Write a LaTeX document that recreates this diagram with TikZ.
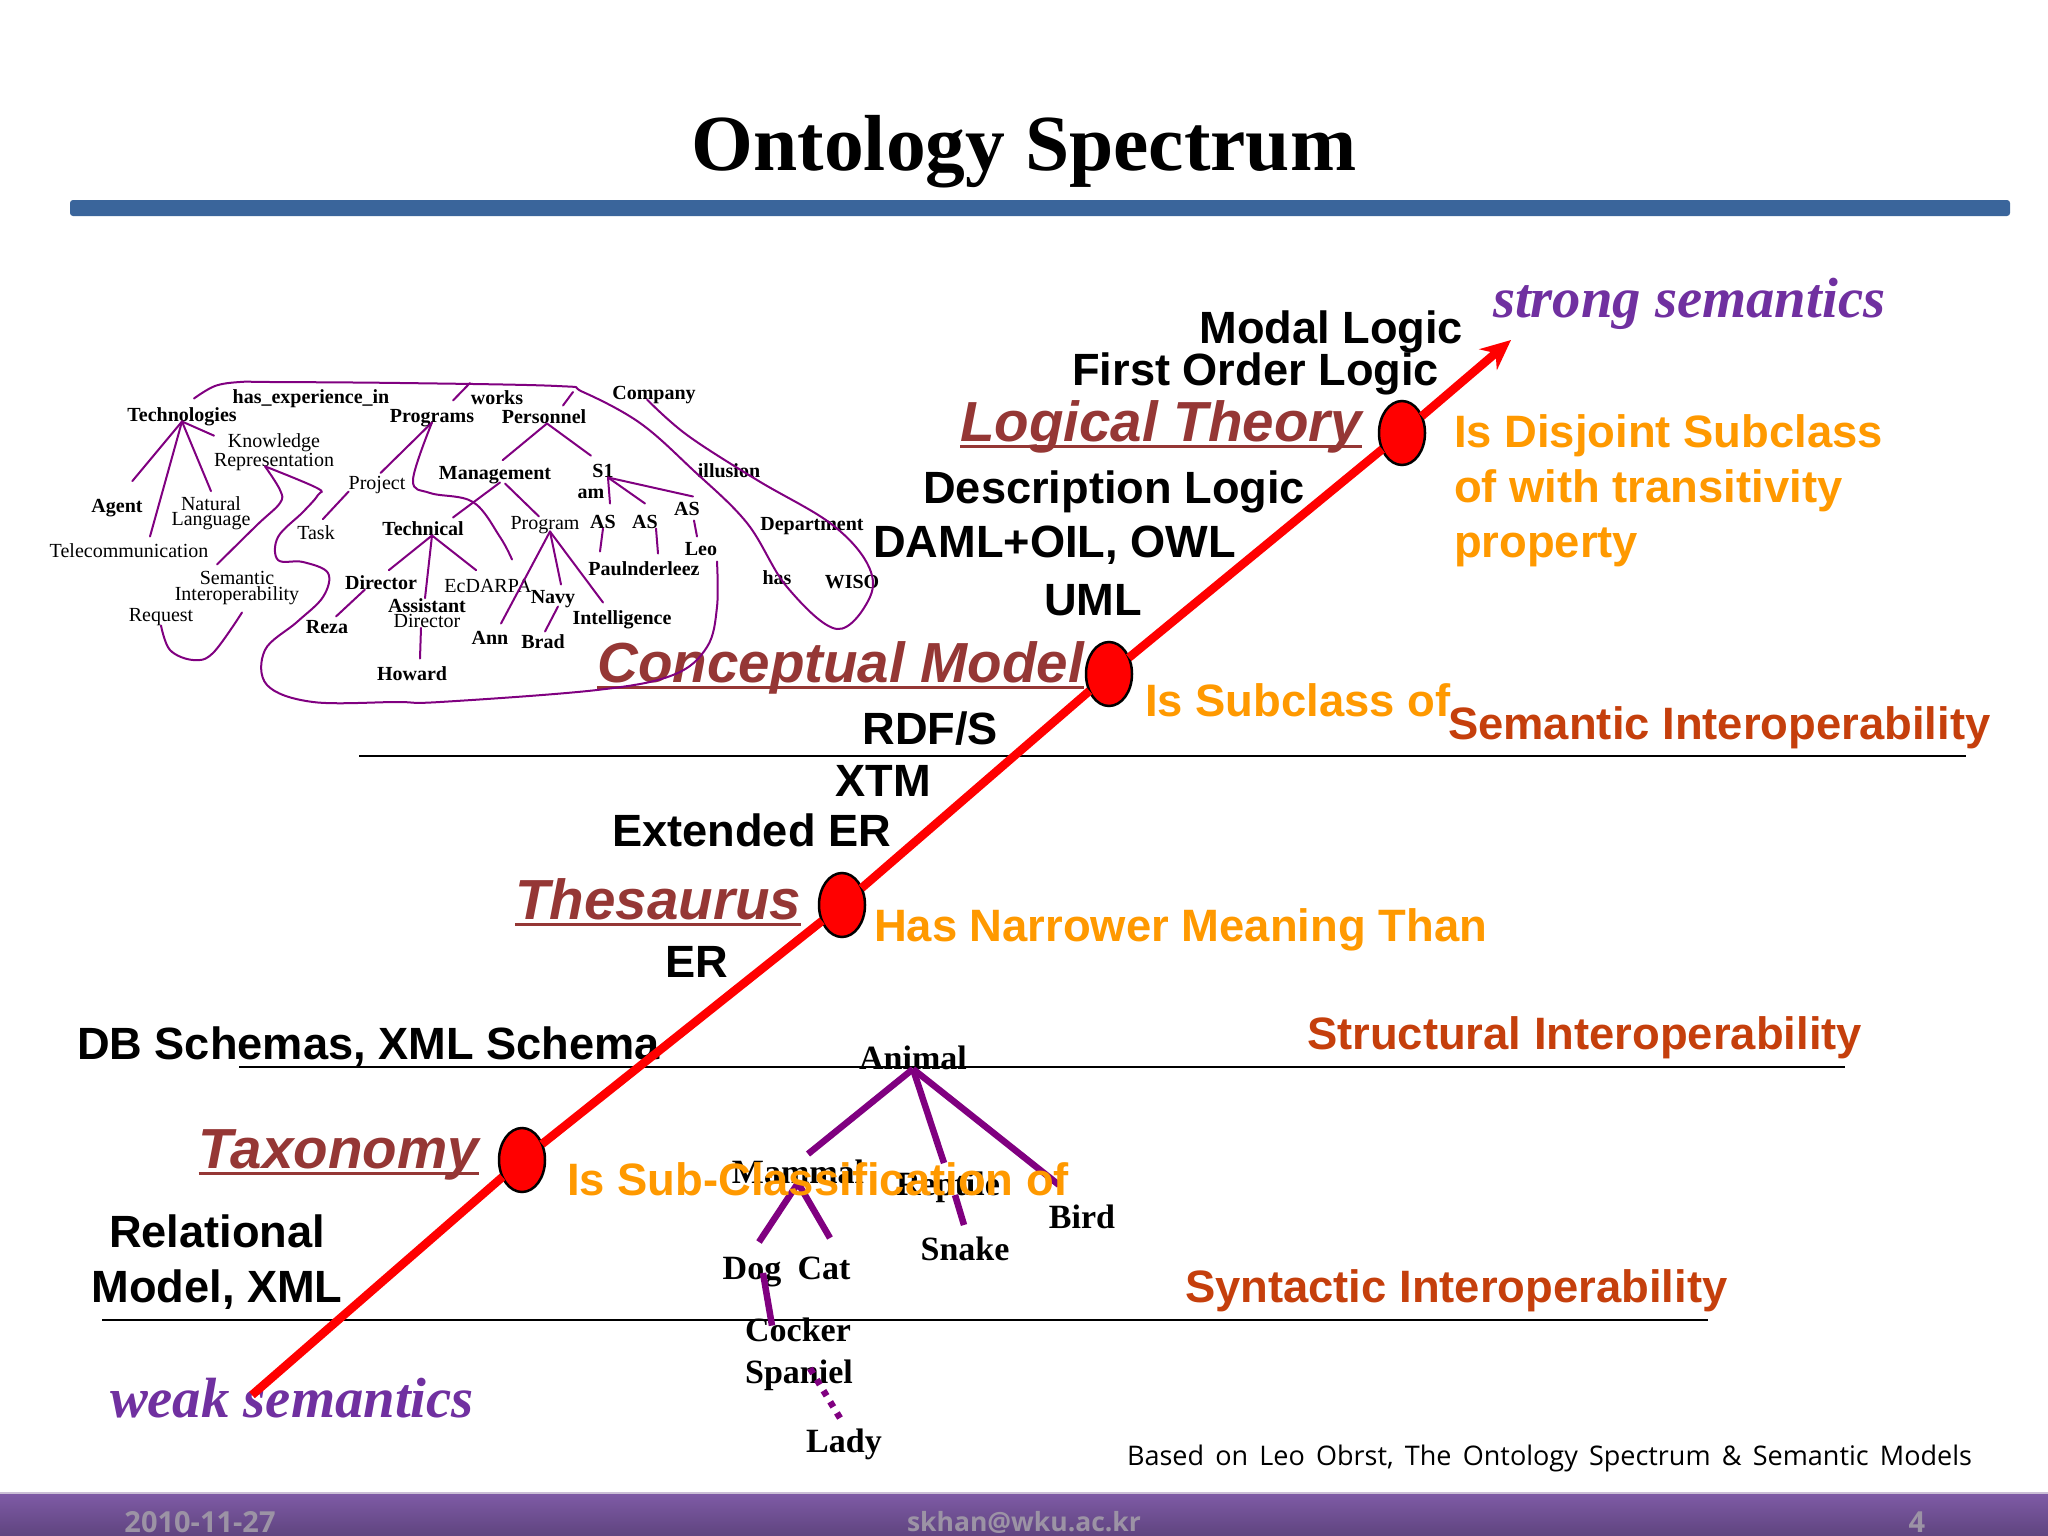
\documentclass[tikz,border=0pt]{standalone}
\usepackage{fontspec}
\setmainfont{Liberation Serif}
\setsansfont{Liberation Sans}
\newfontfamily\footfont{Open Sans}
\newfontfamily\basedfont[WordSpace=1.6]{Open Sans}
\usepackage{xcolor}
\usetikzlibrary{arrows.meta,shapes.geometric}
\definecolor{levelbrown}{HTML}{953735}
\definecolor{relorange}{HTML}{FF9900}
\definecolor{interopred}{HTML}{C53F0C}
\definecolor{semviolet}{HTML}{7030A0}
\definecolor{ontopurple}{HTML}{800080}
\definecolor{barfill}{HTML}{5F90CC}
\definecolor{barline}{HTML}{3A659B}
\definecolor{foottop}{HTML}{7F5BA6}
\definecolor{footlow}{HTML}{5F447F}
\definecolor{foottext}{HTML}{9C93A5}
\definecolor{footedge}{HTML}{CBBFD6}
\begin{document}
\begin{tikzpicture}[x=1pt,y=-1pt,
	every node/.style={inner sep=0pt,outer sep=0pt},
	langtext/.style={font=\sffamily\bfseries\fontsize{45.2}{55}\selectfont,text=black,text height=32pt,text depth=0pt},
	leveltext/.style={font=\sffamily\bfseries\itshape\fontsize{56.5}{60}\selectfont,text=levelbrown,text height=41pt,text depth=5pt},
	levelline/.style={draw=levelbrown,line width=3pt},
	reltext/.style={font=\sffamily\bfseries\fontsize{45.4}{55}\selectfont,text=relorange,text height=32pt,text depth=0pt},
	interop/.style={font=\sffamily\bfseries\fontsize{45.4}{55}\selectfont,text=interopred,text height=32pt,text depth=0pt},
	semtext/.style={font=\bfseries\itshape\fontsize{56.7}{57}\selectfont,text=semviolet,text height=34pt,text depth=0pt},
	foottxt/.style={font=\footfont\bfseries\fontsize{29}{29}\selectfont,text=foottext},
	conc/.style={font=\fontsize{20}{15.5}\selectfont,text height=13pt,text depth=0pt},
	conb/.style={conc,font=\bfseries\fontsize{20}{15.5}\selectfont},
	conm/.style={font=\fontsize{20}{15.5}\selectfont,align=center},
	anim/.style={font=\bfseries\fontsize{34}{42}\selectfont,text height=22pt,text depth=0pt},
	redpt/.style={draw=black,line width=2.5pt,fill=red,ellipse,minimum width=46pt,minimum height=64pt},
	ontoedge/.style={draw=ontopurple,line width=2pt,line cap=round},
	animedge/.style={draw=ontopurple,line width=6.5pt},
	grade/.style={draw=black,line width=1.8pt}]
\useasboundingbox (0,0) rectangle (2048,1536);
\node[font=\bfseries\fontsize{79.5}{80}\selectfont] (title) at (1024,152) {Ontology Spectrum};
\shade[rounded corners=3pt,top color=barline,middle color=barfill,bottom color=barline] (70,200) rectangle (2010,216);
\draw[grade] (359,756) -- (1966,756);
\draw[grade] (239,1067) -- (1845,1067);
\draw[grade] (102,1320) -- (1708,1320);
\shade[top color=foottop,bottom color=footlow] (0,1493) rectangle (2048,1536);
\draw[footedge,line width=2pt] (0,1493) -- (2048,1493);
\node[foottxt] (datetxt) at (200,1522) {2010-11-27};
\node[foottxt,font=\footfont\bfseries\fontsize{26.5}{27}\selectfont] (mailtxt) at (1024,1522) {skhan@wku.ac.kr};
\node[foottxt] (pagetxt) at (1917,1522) {4};
\node[font=\basedfont\fontsize{27}{28}\selectfont,anchor=east] (basedon) at (1972,1458) {Based on Leo Obrst, The Ontology Spectrum \& Semantic Models};
\node[langtext,anchor=east] (modal) at (1463,327) {Modal Logic};
\node[langtext,anchor=east] (firstorder) at (1439,369) {First Order Logic};
\node[langtext,anchor=east] (descr) at (1305,487) {Description Logic};
\node[langtext,anchor=east] (daml) at (1236,541) {DAML+OIL, OWL};
\node[langtext,anchor=east] (uml) at (1142,599) {UML};
\node[langtext,anchor=east] (rdfs) at (998,728) {RDF/S};
\node[langtext,anchor=east] (xtm) at (931,780) {XTM};
\node[langtext,anchor=east] (exter) at (891,830) {Extended ER};
\node[langtext,anchor=east] (er) at (728,961) {ER};
\node[langtext,anchor=west] (dbschema) at (77,1043) {DB Schemas, XML Schema};
\node[font=\sffamily\bfseries\fontsize{45.2}{55}\selectfont,align=center] (relmodel) at (217,1262) {Relational\\Model, XML};
\node[leveltext,anchor=east] (logical) at (1362,423) {Logical Theory};
\node[leveltext,anchor=east] (concept) at (1084,664) {Conceptual Model};
\node[leveltext,anchor=east] (thes) at (801,901) {Thesaurus};
\node[leveltext,anchor=east] (taxon) at (479,1150) {Taxonomy};
\draw[levelline] (logical.south west) -- (logical.south east);
\draw[levelline] (concept.south west) -- (concept.south east);
\draw[levelline] (thes.south west) -- (thes.south east);
\draw[levelline] (taxon.south west) -- (taxon.south east);
\node[semtext,anchor=west] (strong) at (1493,300) {strong semantics};
\node[semtext,anchor=west] (weak) at (110,1400) {weak semantics};
\node[font=\sffamily\bfseries\fontsize{45.4}{55}\selectfont,text=relorange,align=left,anchor=west] (disj) at (1454,491) {Is Disjoint Subclass\\of with transitivity\\property};
\node[reltext,anchor=west] (subcl) at (1145,700) {Is Subclass of};
\node[reltext,anchor=west] (narrow) at (874,925) {Has Narrower Meaning Than};
\node[interop,anchor=west] (semint) at (1448,723) {Semantic Interoperability};
\node[interop,anchor=west] (strint) at (1307,1033) {Structural Interoperability};
\node[interop,anchor=west] (synint) at (1185,1286) {Syntactic Interoperability};
\node[redpt] (ptlog) at (1402,433) {};
\node[redpt] (ptcon) at (1109,674) {};
\node[redpt] (ptthe) at (842,905) {};
\node[redpt] (pttax) at (522,1160) {};
\coordinate (lowend) at (252,1395);
\coordinate (highend) at (1511,340);
\draw[red,line width=8.5pt] (lowend) -- (pttax) -- (ptthe) -- (ptcon) -- (ptlog);
\draw[red,line width=8.5pt,-{Stealth[length=30pt,width=27pt]}] (ptlog) -- (highend);
\node[anim] (animal) at (913,1058) {Animal};
\node[anim] (mammal) at (798,1172) {Mammal};
\node[anim] (reptile) at (948,1184) {Reptile};
\node[anim] (bird) at (1082,1217) {Bird};
\node[anim] (snake) at (965,1249) {Snake};
\node[anim] (dog) at (752,1268) {Dog};
\node[anim] (cat) at (824,1268) {Cat};
\node[font=\bfseries\fontsize{34}{42}\selectfont,align=left] (cocker) at (799,1354) {Cocker\\Spaniel};
\node[anim] (lady) at (844,1441) {Lady};
\draw[animedge] (animal.south) -- ([xshift=10pt,yshift=7pt]mammal.north);
\draw[animedge] (animal.south) -- ([xshift=-4pt,yshift=10pt]reptile.north);
\draw[animedge] (animal.south) -- ([xshift=-23pt,yshift=21pt]bird.north);
\draw[animedge] (mammal.south) -- ([xshift=7pt,yshift=15pt]dog.north);
\draw[animedge] (mammal.south) -- ([xshift=6pt,yshift=19pt]cat.north);
\draw[animedge] ([xshift=7pt]reptile.south) -- ([xshift=-1pt,yshift=13pt]snake.north);
\draw[animedge] ([xshift=11pt,yshift=6pt]dog.south) -- ([xshift=-27pt,yshift=-8pt]cocker.north);
\draw[draw=ontopurple,line width=6.5pt,dash pattern=on 6pt off 7pt] ([xshift=11pt,yshift=22pt]cocker.south) -- ([xshift=-4pt,yshift=12pt]lady.north);
\node[reltext,anchor=west] (subclass) at (567,1179) {Is Sub-Classification of};
\node[conb] (tech) at (182,415) {Technologies};
\node[conb] (hasexp) at (311,397) {has\_experience\_in};
\node[conb] (programs) at (432,416) {Programs};
\node[conb] (works) at (497,398) {works};
\node[conb] (personnel) at (544,417) {Personnel};
\node[conb] (company) at (654,393) {Company};
\node[conm] (know) at (274,452) {Knowledge\\Representation};
\node[conc] (project) at (377,483) {Project};
\node[conb] (mgmt) at (495,473) {Management};
\node[conb] (sone) at (603,471) {S1};
\node[conb] (am) at (591,492) {am};
\node[conb] (illusion) at (729,471) {illusion};
\node[conb] (asthree) at (687,509) {AS};
\node[conb] (asone) at (603,522) {AS};
\node[conb] (astwo) at (645,522) {AS};
\node[conc] (program) at (545,523) {Program};
\node[conb] (dept) at (812,524) {Department};
\node[conb] (agent) at (117,506) {Agent};
\node[conm] (natural) at (211,513) {Natural\\Language};
\node[conc] (task) at (316,533) {Task};
\node[conb] (technical) at (423,529) {Technical};
\node[conc] (telecom) at (129,551) {Telecommunication};
\node[conb] (leo) at (701,549) {Leo};
\node[conb] (paul) at (644,569) {Paulnderleez};
\node[conb] (has) at (777,578) {has};
\node[conb] (wiso) at (852,582) {WISO};
\node[conm] (semantic) at (237,588) {Semantic\\Interoperability};
\node[conb] (director) at (381,583) {Director};
\node[conc] (ecdarpa) at (488,586) {EcDARPA};
\node[conb] (navy) at (553,597) {Navy};
\node[conm] (assistant) at (427,613) {\textbf{Assistant}\\Director};
\node[conb] (intel) at (622,618) {Intelligence};
\node[conc] (request) at (161,615) {Request};
\node[conb] (reza) at (327,627) {Reza};
\node[conb] (ann) at (490,638) {Ann};
\node[conb] (brad) at (543,642) {Brad};
\node[conb] (howard) at (412,674) {Howard};
\coordinate (worksjoin) at (470,383);
\coordinate (persjoin) at (573,392);
\draw[ontoedge,shorten >=24pt] (tech.south) -- (agent.north);
\draw[ontoedge] (tech.south) -- ([xshift=21pt,yshift=8pt]telecom.north);
\draw[ontoedge] (tech.south) -- ([yshift=5pt]natural.north);
\draw[ontoedge] (tech.south) -- ([yshift=-2pt]know.north west);
\draw[ontoedge,shorten >=5pt] (programs.south) -- (project.north);
\draw[ontoedge,shorten >=10pt] ([yshift=-2pt]project.south west) -- (task.north);
\draw[ontoedge,shorten >=10pt] ([xshift=9pt]technical.south) -- (director.north);
\draw[ontoedge] ([xshift=9pt]technical.south) -- ([xshift=-2pt]assistant.north);
\draw[ontoedge,shorten >=15pt] ([xshift=9pt]technical.south) -- (ecdarpa.north);
\draw[ontoedge] ([xshift=-16pt]director.south) -- ([xshift=9pt,yshift=4pt]reza.north);
\draw[ontoedge] ([xshift=-6pt]assistant.south) -- ([xshift=8pt,yshift=9pt]howard.north);
\draw[ontoedge,shorten >=10pt] ([xshift=3pt]personnel.south) -- (mgmt.north);
\draw[ontoedge,shorten >=15pt] ([xshift=3pt]personnel.south) -- (sone.north);
\draw[ontoedge] ([xshift=5pt,yshift=-3pt]mgmt.south) -- ([xshift=30pt,yshift=5pt]technical.north);
\draw[ontoedge] ([xshift=10pt,yshift=-4pt]mgmt.south) -- ([xshift=-6pt]program.north);
\draw[ontoedge] ([xshift=5pt]sone.south) -- ([xshift=7pt,yshift=12pt]asone.north);
\draw[ontoedge] ([xshift=5pt]sone.south) -- ([yshift=12pt]astwo.north);
\draw[ontoedge] ([xshift=5pt]sone.south) -- ([xshift=6pt,yshift=6pt]asthree.north);
\draw[ontoedge] (asone.south) -- ([xshift=-44pt,yshift=11pt]paul.north);
\draw[ontoedge] ([xshift=11pt]astwo.south) -- ([xshift=14pt,yshift=9pt]paul.north);
\draw[ontoedge] ([xshift=7pt,yshift=-5pt]asthree.south) -- ([xshift=-4pt,yshift=6pt]leo.north);
\draw[ontoedge] ([xshift=5pt,yshift=-2pt]program.south) -- ([xshift=11pt,yshift=8pt]ann.north);
\draw[ontoedge] ([xshift=5pt,yshift=-2pt]program.south) -- ([xshift=8pt,yshift=6pt]navy.north);
\draw[ontoedge] ([xshift=5pt,yshift=-2pt]program.south) -- ([xshift=-19pt,yshift=9pt]intel.north);
\draw[ontoedge] ([xshift=5pt,yshift=-3pt]navy.south) -- ([xshift=2pt,yshift=4pt]brad.north);
\draw[ontoedge] ([xshift=21pt,yshift=9pt]programs.north) -- (worksjoin);
\draw[ontoedge] ([xshift=19pt,yshift=5pt]personnel.north) -- (persjoin);
\draw[ontoedge] plot[smooth,tension=0.6] coordinates {([xshift=12pt,yshift=10pt]tech.north) (215,386) (240,382) (270,382) (400,383) (557,386) (583,392) (640,423) (693,470) (747,523) (787,587) (837,629) (870,597) (867,563) (830,523) (757,480) (687,435) ([xshift=-7pt]company.south)};
\draw[ontoedge] plot[smooth,tension=0.6] coordinates {(programs.south) (413,480) (430,493) (473,502) (500,537) ([xshift=24pt,yshift=20pt]ecdarpa.north)};
\draw[ontoedge] plot[smooth,tension=0.6] coordinates {([xshift=-9pt,yshift=4pt]know.south) (280,490) (280,503) (257,525) ([xshift=-20pt,yshift=7pt]semantic.north)};
\draw[ontoedge] plot[smooth,tension=0.6] coordinates {([xshift=-9pt,yshift=4pt]know.south) (317,488) (318,495) (303,512) (278,537) (278,560) (303,562) (328,573) (323,597) (297,622) (265,650) (267,685) (313,702) (397,702) (440,702) (597,690) (673,675) (707,647) (717,607) ([xshift=16pt,yshift=-6pt]leo.south)};
\draw[ontoedge] plot[smooth,tension=0.6] coordinates {([yshift=-4pt]request.south) (170,650) (193,660) (213,653) ([xshift=5pt,yshift=-8pt]semantic.south)};
\end{tikzpicture}
\end{document}
